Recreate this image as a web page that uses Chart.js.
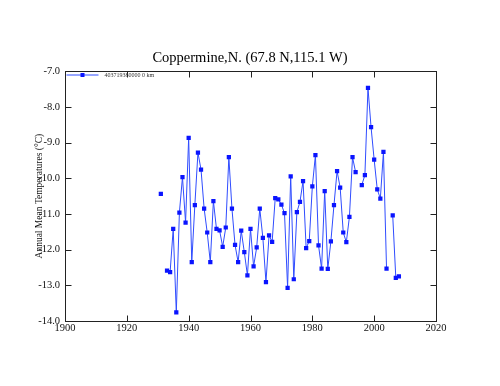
<!DOCTYPE html>
<html>
<head>
<meta charset="utf-8">
<script src="https://cdn.jsdelivr.net/npm/chart.js@4/dist/chart.umd.min.js"></script>
<style>
html,body{margin:0;padding:0;background:#fff;}
#c{display:block;}
</style>
</head>
<body>
<canvas id="c" width="500" height="386"></canvas>
<script>
// ---- data ----
const years = [1931,1932,1933,1934,1935,1936,1937,1938,1939,1940,
  1941,1942,1943,1944,1945,1946,1947,1948,1949,1950,
  1951,1952,1953,1954,1955,1956,1957,1958,1959,1960,
  1961,1962,1963,1964,1965,1966,1967,1968,1969,1970,
  1971,1972,1973,1974,1975,1976,1977,1978,1979,1980,
  1981,1982,1983,1984,1985,1986,1987,1988,1989,1990,
  1991,1992,1993,1994,1995,1996,1997,1998,1999,2000,
  2001,2002,2003,2004,2005,2006,2007,2008];
const temps = [-10.44,null,-12.59,-12.63,-11.42,-13.76,-10.96,-9.97,-11.24,-8.87,
  -12.35,-10.75,-9.28,-9.76,-10.85,-11.52,-12.35,-10.64,-11.42,-11.46,
  -11.92,-11.38,-9.41,-10.85,-11.87,-12.35,-11.47,-12.07,-12.72,-11.42,
  -12.47,-11.94,-10.85,-11.67,-12.91,-11.60,-11.78,-10.56,-10.59,-10.74,
  -10.98,-13.07,-9.95,-12.83,-10.95,-10.66,-10.08,-11.96,-11.76,-10.23,
  -9.35,-11.88,-12.53,-10.36,-12.54,-11.77,-10.75,-9.80,-10.26,-11.52,
  -11.79,-11.08,-9.41,-9.83,null,-10.19,-9.91,-7.47,-8.57,-9.48,
  -10.31,-10.57,-9.26,-12.53,null,-11.04,-12.79,-12.75];
const xTicks = [1900,1920,1940,1960,1980,2000,2020];
const yTicks = [-7,-8,-9,-10,-11,-12,-13,-14];
const titleText = 'Coppermine,N. (67.8 N,115.1 W)';
const yTitle = 'Annual Mean Temperatures (\u00B0C)';
const legendText = '403719380000 0 km';

const points = years.map((y, i) => ({x: y, y: temps[i]}));
const SERIF = '"Liberation Serif", "DejaVu Serif", serif';
const BLUE = '#0a14ff';
const LINE = '#2f4cff';

const boxPlugin = {
  id: 'boxTicks',
  afterDraw(chart) {
    const ctx = chart.ctx;
    const a = chart.chartArea;
    const L = Math.round(a.left) + 0.5, R = Math.round(a.right) + 0.5;
    const T = Math.round(a.top) + 0.5, B = Math.round(a.bottom) + 0.5;
    ctx.save();
    ctx.strokeStyle = '#222';
    ctx.lineWidth = 1;
    ctx.strokeRect(L, T, R - L, B - T);
    const tl = 6;
    ctx.beginPath();
    chart.scales.x.ticks.forEach(t => {
      const px = Math.round(chart.scales.x.getPixelForValue(t.value)) + 0.5;
      ctx.moveTo(px, B); ctx.lineTo(px, B - tl);
      ctx.moveTo(px, T); ctx.lineTo(px, T + tl);
    });
    chart.scales.y.ticks.forEach(t => {
      const py = Math.round(chart.scales.y.getPixelForValue(t.value)) + 0.5;
      ctx.moveTo(L, py); ctx.lineTo(L + tl, py);
      ctx.moveTo(R, py); ctx.lineTo(R - tl, py);
    });
    ctx.stroke();
    // legend inside plot
    const ly = T + 3.5;
    ctx.strokeStyle = LINE;
    ctx.beginPath();
    ctx.moveTo(L + 1, ly); ctx.lineTo(L + 33, ly);
    ctx.stroke();
    ctx.fillStyle = BLUE;
    ctx.fillRect(L + 15, ly - 2, 4, 4);
    ctx.fillStyle = '#333';
    ctx.font = '6px ' + SERIF;
    ctx.textBaseline = 'middle';
    ctx.textAlign = 'left';
    ctx.fillText(legendText, L + 39, ly);
    ctx.restore();
  }
};

new Chart(document.getElementById('c'), {
  type: 'line',
  data: {
    datasets: [{
      label: legendText,
      data: points,
      borderColor: LINE,
      borderWidth: 1,
      backgroundColor: BLUE,
      pointStyle: 'rect',
      pointRadius: 3,
      pointBorderWidth: 0,
      pointBackgroundColor: BLUE,
      spanGaps: false,
      tension: 0
    }]
  },
  options: {
    responsive: false,
    animation: false,
    devicePixelRatio: 1,
    layout: {padding: {top: 49, right: 0, left: 0, bottom: 0}},
    plugins: {
      legend: {display: false},
      tooltip: {enabled: false},
      title: {
        display: true,
        text: titleText,
        color: '#000',
        font: {family: SERIF, size: 14.5, weight: 'normal'},
        padding: {top: 0, bottom: 4.8}
      }
    },
    scales: {
      x: {
        type: 'linear',
        min: 1900, max: 2020,
        afterBuildTicks(s) { s.ticks = xTicks.map(v => ({value: v})); },
        afterFit(s) { s.height = 65; },
        grid: {display: false, drawTicks: false},
        border: {display: false},
        ticks: {
          color: '#111', padding: 1, maxRotation: 0, autoSkip: false,
          font: {family: SERIF, size: 10.5},
          callback: v => String(v)
        }
      },
      y: {
        min: -14, max: -7,
        afterBuildTicks(s) { s.ticks = yTicks.map(v => ({value: v})); },
        afterFit(s) { s.width = 65; },
        grid: {display: false, drawTicks: false},
        border: {display: false},
        title: {
          display: true, text: yTitle, color: '#111',
          font: {family: SERIF, size: 9.5},
          padding: {top: 34, bottom: 0}
        },
        ticks: {
          color: '#111', padding: 5, autoSkip: false,
          font: {family: SERIF, size: 10.5},
          callback: v => Number(v).toFixed(1)
        }
      },
      yRight: {
        position: 'right',
        min: -14, max: -7,
        afterFit(s) { s.width = 64; },
        grid: {display: false, drawTicks: false},
        border: {display: false},
        ticks: {display: false}
      }
    }
  },
  plugins: [boxPlugin]
});
</script>
</body>
</html>
